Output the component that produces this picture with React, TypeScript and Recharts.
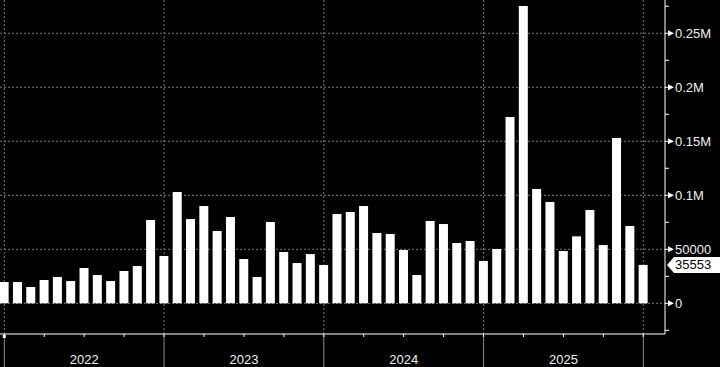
import { BarChart, Bar, XAxis, YAxis, CartesianGrid } from "recharts";

// monthly points, Dec 2021 .. Dec 2025
const months = [
  "2021-12",
  "2022-01", "2022-02", "2022-03", "2022-04", "2022-05", "2022-06",
  "2022-07", "2022-08", "2022-09", "2022-10", "2022-11", "2022-12",
  "2023-01", "2023-02", "2023-03", "2023-04", "2023-05", "2023-06",
  "2023-07", "2023-08", "2023-09", "2023-10", "2023-11", "2023-12",
  "2024-01", "2024-02", "2024-03", "2024-04", "2024-05", "2024-06",
  "2024-07", "2024-08", "2024-09", "2024-10", "2024-11", "2024-12",
  "2025-01", "2025-02", "2025-03", "2025-04", "2025-05", "2025-06",
  "2025-07", "2025-08", "2025-09", "2025-10", "2025-11", "2025-12",
];

const values = [
  19700,
  19700, 15100, 21600, 24400, 20600, 32700,
  26200, 20600, 29900, 34500, 77100, 43800,
  103000, 78000, 90100, 67000, 79900, 41000,
  24400, 75300, 47500, 37300, 45600, 35500,
  82700, 84500, 90100, 65100, 64200, 49400,
  26200, 76200, 73400, 55800, 57700, 39200,
  50300, 172500, 275300, 105800, 93800, 48400,
  62000, 86400, 53900, 153000, 71600, 35553,
];

const yearLabels = ["2022", "2023", "2024", "2025"];
const yearBounds = [0, 12, 24, 36, 48];
const quarterTicks = [0, 3, 6, 9, 12, 15, 18, 21, 24, 27, 30, 33, 36, 39, 42, 45, 48];
const majorY = [0, 50000, 100000, 150000, 200000, 250000];
const minorY = [-25000, 25000, 75000, 125000, 175000, 225000, 275000];

const lastValue = values[values.length - 1];
const data = values.map((v, i) => ({ i, month: months[i], value: v }));

const FONT = "'Liberation Sans', Arial, sans-serif";
const TXT = "#f0f0f0";

const fmtY = (v: number) => (v >= 100000 ? `${v / 1000000}M` : `${v}`);

const XTick = (props: any) => {
  const { x, y, payload } = props;
  const v = payload.value as number;
  const yearIdx = yearBounds.indexOf(v);
  return (
    <g>
      {yearIdx >= 0 && <line x1={x} x2={x} y1={y} y2={y + 34} stroke="#8a8a8a" strokeWidth={1} />}
      <line x1={x} x2={x} y1={y} y2={y + 3} stroke="#fff" strokeWidth={1} />
      {v === 0 && <rect x={x - 1.5} y={y + 1} width={3} height={3} fill="#fff" />}
      {v % 12 === 6 && (
        <text x={x} y={y + 30} textAnchor="middle" fill={TXT} fontSize={13} fontFamily={FONT}>
          {yearLabels[Math.floor(v / 12)]}
        </text>
      )}
    </g>
  );
};

const YTick = (props: any) => {
  const { x, y, payload } = props;
  const v = payload.value as number;
  if (v === lastValue) {
    return (
      <g>
        <polygon points={`${x + 2},${y} ${x + 9},${y - 8} ${x + 55},${y - 8} ${x + 55},${y + 8} ${x + 9},${y + 8}`} fill="#fff" />
        <text x={x + 10} y={y} dy="0.35em" fill="#000" fontSize={13} fontFamily={FONT}>
          {v}
        </text>
      </g>
    );
  }
  if (majorY.includes(v)) {
    return (
      <g>
        <line x1={x} x2={x + 4} y1={y} y2={y} stroke="#fff" />
        <polygon points={`${x + 3},${y - 3} ${x + 9},${y} ${x + 3},${y + 3}`} fill="#fff" />
        <text x={x + 10} y={y} dy="0.35em" fill={TXT} fontSize={13} fontFamily={FONT}>
          {fmtY(v)}
        </text>
      </g>
    );
  }
  return <line x1={x} x2={x + 4} y1={y} y2={y} stroke="#fff" />;
};

const yTicks = [...majorY, ...minorY, lastValue].sort((a, b) => a - b);

export default function App() {
  return (
    <div style={{ position: "absolute", left: 0, top: 0, width: 720, height: 367, background: "#000" }}>
      <BarChart width={720} height={367} data={data} margin={{ top: 0, right: 0, bottom: 0, left: 0 }}>
        <CartesianGrid
          stroke="#7a7a7a"
          strokeDasharray="2 2"
          horizontalValues={majorY}
          verticalValues={yearBounds}
        />
        <XAxis
          dataKey="i"
          type="number"
          domain={[-0.323, 49.63]}
          allowDataOverflow
          ticks={quarterTicks}
          interval={0}
          height={33}
          tickSize={0}
          tickMargin={0}
          tickLine={false}
          axisLine={{ stroke: "#fff" }}
          tick={<XTick />}
        />
        <YAxis
          orientation="right"
          width={55}
          domain={[-28400, 280800]}
          allowDataOverflow
          ticks={yTicks}
          interval={0}
          tickSize={0}
          tickMargin={0}
          tickLine={false}
          axisLine={{ stroke: "#fff" }}
          tick={<YTick />}
        />
        <Bar dataKey="value" fill="#fff" barSize={9} isAnimationActive={false} />
      </BarChart>
    </div>
  );
}
